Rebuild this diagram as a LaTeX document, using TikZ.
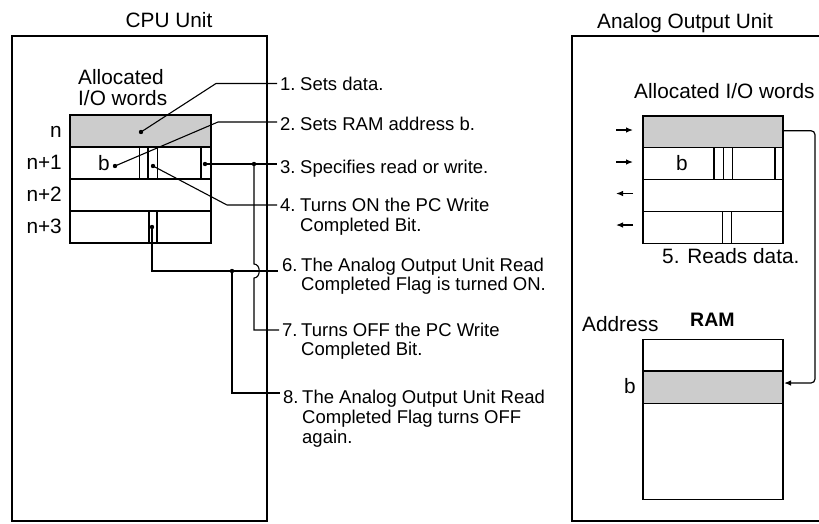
\documentclass[tikz,border=0pt]{standalone}
\usepackage{fontspec}
\setmainfont{Liberation Sans}
\usetikzlibrary{arrows.meta}
\begin{document}
\begin{tikzpicture}[x=1pt,y=-1pt,
  lbl/.style={font=\fontsize{18.5}{20}\selectfont, inner sep=0pt, anchor=base west},
  big/.style={font=\fontsize{20.8}{22}\selectfont, inner sep=0pt, anchor=base west},
  frame/.style={line width=1.4pt},
  cell/.style={line width=1.3pt},
  lead/.style={line width=1.1pt},
  shade/.style={fill=black!20},
  tip/.style={-{Latex[length=7pt,width=5.5pt]}, line width=1.2pt}
]
\useasboundingbox (0,0) rectangle (819,523);

% ---------- titles ----------
\node[big, anchor=base] (cputitle) at (169,27) {CPU Unit};
\node[big, anchor=base] (aoutitle) at (685,28) {Analog Output Unit};

% ---------- frames ----------
\draw[frame] (12,36) rectangle (267,521);
\draw[frame] (825,36) -- (572,36) -- (572,521) -- (825,521);

% ---------- CPU allocated words ----------
\node[big] (cpualloca) at (78,84) {Allocated};
\node[big] (cpuallocb) at (78,105) {I/O words};
\fill[shade] (70,115) rectangle (211,147);
\draw[cell] (70,115) rectangle (211,243);
\draw[cell] (70,147) -- (211,147) (70,179) -- (211,179) (70,211) -- (211,211);
\draw[cell] (139.5,147) -- (139.5,179) (148,147) -- (148,179) (157.5,147) -- (157.5,179) (201,147) -- (201,179);
\draw[cell] (149,211) -- (149,243) (157,211) -- (157,243);

\node[big, anchor=base east] (rn)  at (62,137) {n};
\node[big, anchor=base east] (rn1) at (62,169) {n+1};
\node[big, anchor=base east] (rn2) at (62,201) {n+2};
\node[big, anchor=base east] (rn3) at (62,233) {n+3};
\node[big, anchor=base] (cpub) at (104,170) {b};

% dots
\coordinate (dn) at (141,132);
\coordinate (db) at (115,166);
\coordinate (dm) at (153,166);
\coordinate (dr) at (205,164);
\coordinate (d3) at (152,227);
\coordinate (j3) at (254,164);
\coordinate (j6) at (232,271);
\foreach \p in {dn,db,dm,dr,d3,j3,j6} \fill (\p) circle (2.2pt);

% ---------- labels ----------
\node[lbl] (n1) at (280,90.7) {1.};
\node[lbl] (t1) at (300,90.7) {Sets data.};
\node[lbl] (n2) at (280,130) {2.};
\node[lbl] (t2) at (300,130) {Sets RAM address b.};
\node[lbl] (n3) at (280,173) {3.};
\node[lbl] (t3) at (300,173) {Specifies read or write.};
\node[lbl] (n4) at (280,211) {4.};
\node[lbl] (t4) at (300,211) {Turns ON the PC Write};
\node[lbl] (t4b) at (300,231.5) {Completed Bit.};
\node[lbl] (n6) at (282,271) {6.};
\node[lbl] (t6) at (301,271) {The Analog Output Unit Read};
\node[lbl] (t6b) at (301,290.5) {Completed Flag is turned ON.};
\node[lbl] (n7) at (282,336) {7.};
\node[lbl] (t7) at (301,336) {Turns OFF the PC Write};
\node[lbl] (t7b) at (301,355.5) {Completed Bit.};
\node[lbl] (n8) at (283,403.5) {8.};
\node[lbl] (t8) at (302,403.5) {The Analog Output Unit Read};
\node[lbl] (t8b) at (302,423.2) {Completed Flag turns OFF};
\node[lbl] (t8c) at (302,443) {again.};

\coordinate (e1) at (277,83.5);
\coordinate (e2) at (277,122);
\coordinate (e3) at (277,164);
\coordinate (e4) at (277,205);
\coordinate (e6) at (278,271);
\coordinate (e7) at (279,330);
\coordinate (e8) at (280,393);

% ---------- leaders ----------
\draw[lead] (dn) -- (216,83.5) -- (e1);
\draw[lead] (db) -- (218,122) -- (e2);
\draw[lead] (dr) -- (e3);
\draw[lead] (dm) -- (227,205) -- (e4);
\draw[lead] (d3) -- (152,271) -- (e6);
\draw[lead] (j3) -- (254,264) .. controls (261,264) and (261,278) .. (254,278) -- (254,330) -- (e7);
\draw[lead] (j6) -- (232,393) -- (e8);

% ---------- Analog Output Unit ----------
\node[big] (aoalloc) at (634,98) {Allocated I/O words};
\fill[shade] (643,116) rectangle (783,147.5);
\draw[cell] (643,116) rectangle (783,243.3);
\draw[cell] (643,147.5) -- (783,147.5) (643,179.3) -- (783,179.3) (643,211.5) -- (783,211.5);
\draw[cell] (714,147.5) -- (714,179.3) (723.3,147.5) -- (723.3,179.3) (732.3,147.5) -- (732.3,179.3) (775,147.5) -- (775,179.3);
\draw[cell] (722.7,211.5) -- (722.7,243.3) (731.7,211.5) -- (731.7,243.3);
\node[big, anchor=base] (aob) at (682,170) {b};

\coordinate (a1l) at (616,130);  \coordinate (a1r) at (633,130);
\coordinate (a2l) at (616,162);  \coordinate (a2r) at (633,162);
\coordinate (a3l) at (616,193.5);\coordinate (a3r) at (633,193.5);
\coordinate (a4l) at (616,225);  \coordinate (a4r) at (633,225);
\draw[tip] (a1l) -- (a1r);
\draw[tip] (a2l) -- (a2r);
\draw[tip] (a3r) -- (a3l);
\draw[tip] (a4r) -- (a4l);

\node[big] (t5) at (662,263) {5. Reads data.};

% RAM
\node[big] (addr) at (582,331.7) {Address};
\node[big, font=\fontsize{19.5}{20}\selectfont\bfseries] (ram) at (690,326.7) {RAM};
\fill[shade] (643,371) rectangle (783,403.3);
\draw[cell] (643,339.3) rectangle (783,499.3);
\draw[cell] (643,371) -- (783,371) (643,403.3) -- (783,403.3);
\node[big, anchor=base] (ramb) at (630,393.5) {b};

\coordinate (rsrc) at (783,130.7);
\coordinate (rdst) at (784,383);
\draw[tip, rounded corners=4pt] (rsrc) -- (815,130.7) -- (815,383) -- (rdst);
\end{tikzpicture}
\end{document}
